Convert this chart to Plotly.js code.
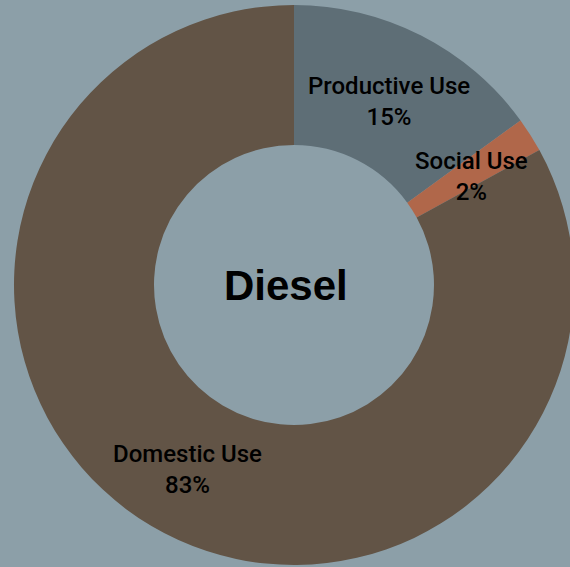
<!DOCTYPE html>
<html>
<head>
<meta charset="utf-8">
<script src="https://cdn.plot.ly/plotly-3.0.1.min.js"></script>
<style>
html,body{margin:0;padding:0;width:570px;height:567px;overflow:hidden;background:#8C9FA8;}
#chart{position:absolute;left:0;top:-9px;width:588px;height:588px;}
</style>
</head>
<body>
<div id="chart"></div>
<script>
const categories = ["Productive Use", "Social Use", "Domestic Use"];
const values = [15, 2, 83];
const colors = ["#5E6E76", "#B0674A", "#625446"];
const centerTitle = "Diesel";

const total = values.reduce((a, b) => a + b, 0);
const hole = 0.5;
const midR = 0.5 * (1 + hole) / 2;
const annotations = [];
let cum = 0;
values.forEach((v, i) => {
  const mid = (cum + v / 2) / total * 2 * Math.PI;
  cum += v;
  annotations.push({
    x: 0.5 + midR * Math.sin(mid),
    y: 0.5 + midR * Math.cos(mid),
    xref: "paper", yref: "paper",
    text: categories[i] + "<br>" + Math.round(v / total * 100) + "%",
    showarrow: false,
    font: {family: "Roboto, Liberation Sans, Arial, sans-serif", size: 24, weight: 500, color: "#000"},
    xanchor: "center", yanchor: "middle", yshift: -4
  });
});
annotations.push({
  x: 0.5, y: 0.5, xref: "paper", yref: "paper",
  text: "<b>" + centerTitle + "</b>", showarrow: false,
  font: {family: "Liberation Sans, Arial, sans-serif", size: 42, color: "#000"},
  xanchor: "center", yanchor: "middle", xshift: -8
});

Plotly.newPlot("chart", [{
  type: "pie",
  labels: categories,
  values: values,
  hole: hole,
  sort: false,
  direction: "clockwise",
  rotation: 0,
  marker: {colors: colors, line: {width: 0}},
  textinfo: "none",
  hoverinfo: "label+percent"
}], {
  width: 588, height: 588,
  margin: {l: 14, r: 14, t: 14, b: 14},
  paper_bgcolor: "#8C9FA8",
  plot_bgcolor: "#8C9FA8",
  showlegend: false,
  annotations: annotations
}, {displayModeBar: false, staticPlot: true});
</script>
</body>
</html>
